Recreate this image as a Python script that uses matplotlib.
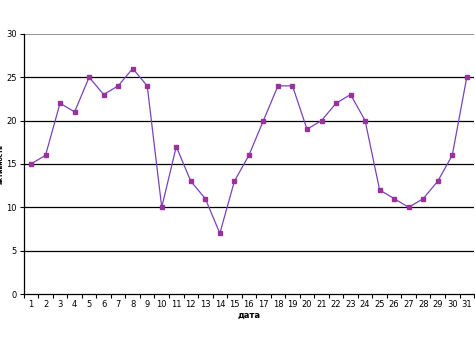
import numpy as np
import matplotlib.pyplot as plt

days = list(range(1, 32))
activity = [15, 16, 22, 21, 25, 23, 24, 26, 24, 10, 17, 13, 11, 7, 13, 16,
            20, 24, 24, 19, 20, 22, 23, 20, 12, 11, 10, 11, 13, 16, 25]

fig = plt.figure(figsize=(4.75, 3.56), dpi=100)
ax = fig.add_axes([0.05, 0.174, 0.948, 0.731])

for y in [5, 10, 15, 20, 25]:
    ax.axhline(y, color='black', lw=0.9, zorder=1)
ax.axhline(30, color='#808080', lw=1.2, zorder=1)

ax.plot(days, activity, color='#7744bb', lw=0.9, marker='s', markersize=3.2,
        markerfacecolor='#993399', markeredgecolor='#993399', zorder=3)

ax.set_xlim(0.5, 31.5)
ax.set_ylim(0, 30)
ax.set_yticks(range(0, 31, 5))
ax.set_xticks(days)
ax.set_xticks(np.arange(0.5, 32, 1), minor=True)
ax.tick_params(axis='x', which='major', length=0, labelsize=6, pad=4)
ax.tick_params(axis='x', which='minor', length=3, direction='out', width=0.8)
ax.tick_params(axis='y', length=3, width=0.8, labelsize=6, pad=2)

for s in ['top', 'right']:
    ax.spines[s].set_visible(False)
ax.spines['left'].set_linewidth(0.9)
ax.spines['bottom'].set_linewidth(0.9)

ax.set_xlabel('дата', fontsize=6, fontweight='bold', labelpad=2)
ax.set_ylabel('активность', fontsize=4.5, fontweight='bold')
ax.yaxis.set_label_coords(-0.044, 0.5)

fig.savefig('out.png', dpi=100)
